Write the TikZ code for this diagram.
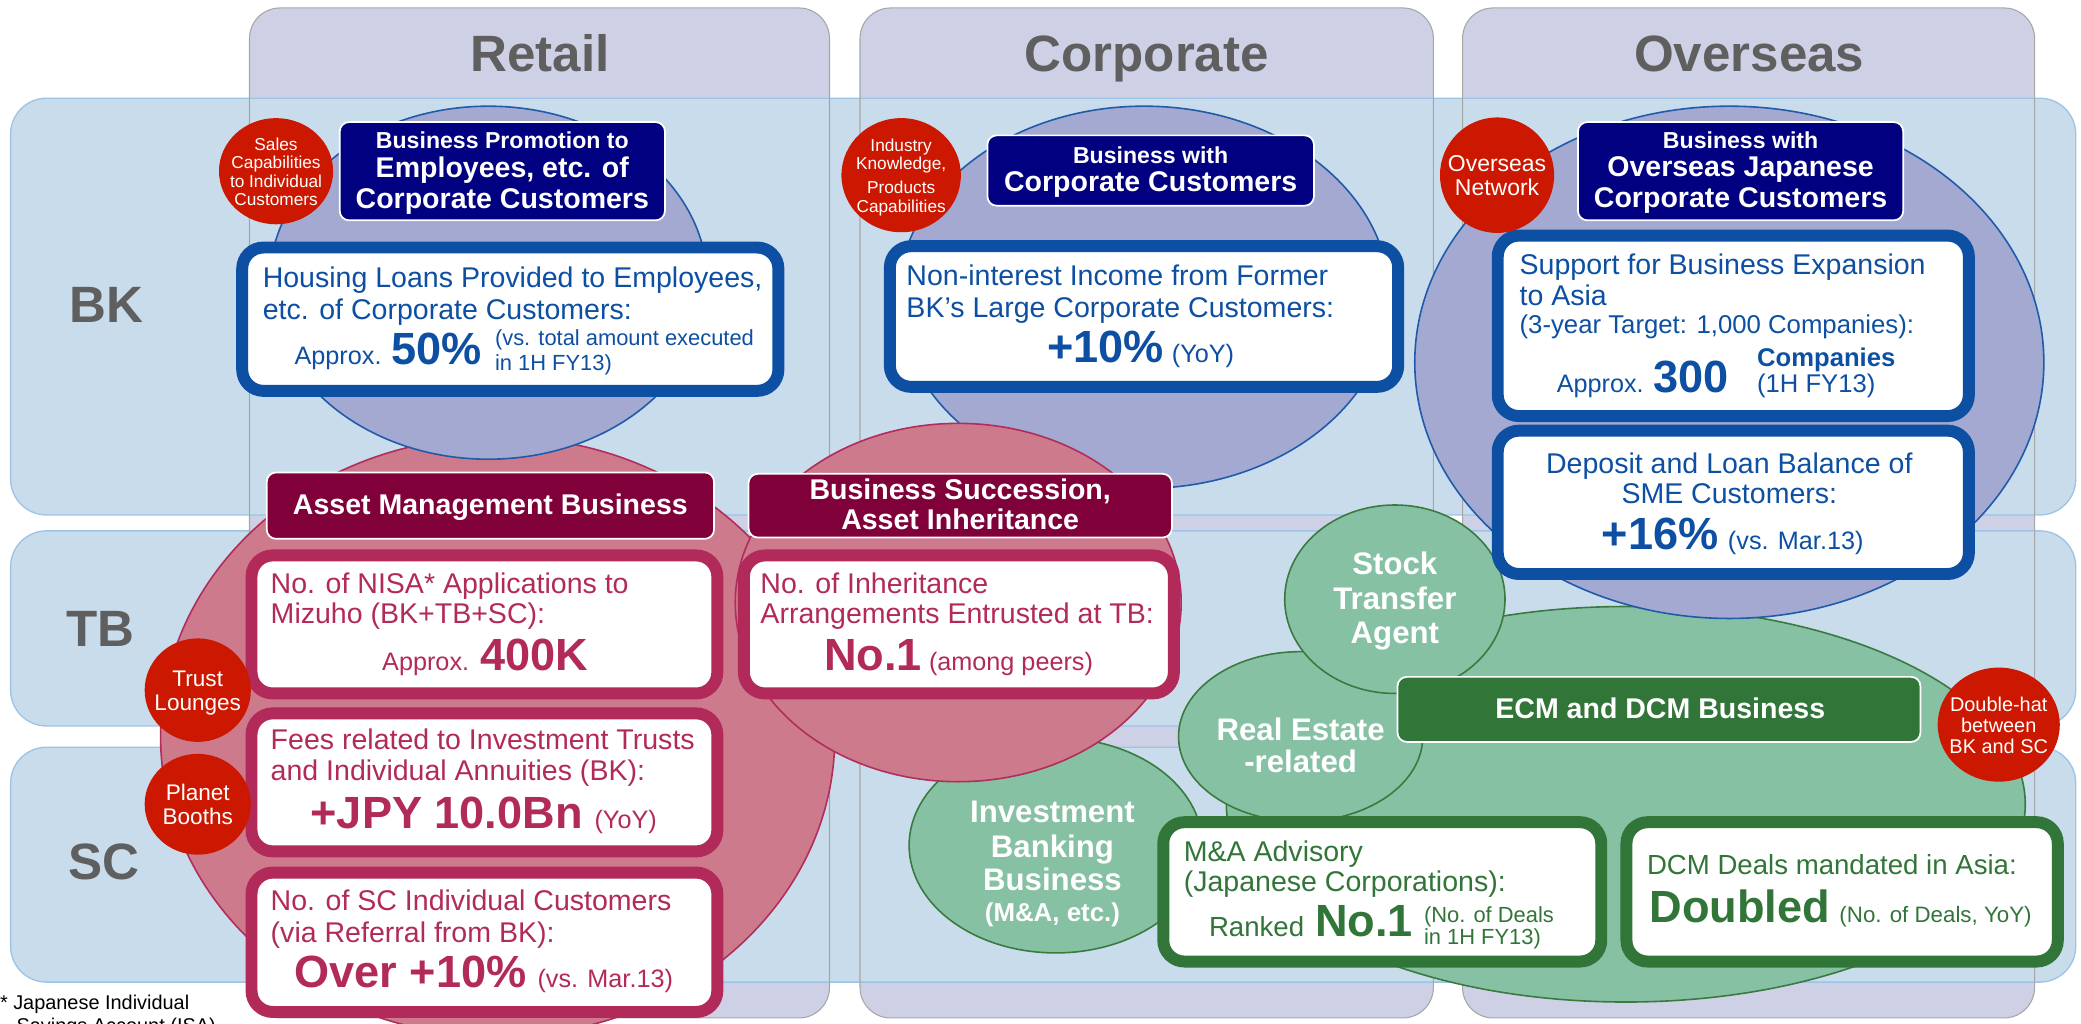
\documentclass[tikz,border=0pt]{standalone}
\usepackage{fontspec}
\setmainfont{Liberation Sans}
\usetikzlibrary{shapes.geometric}

\definecolor{colFill}{HTML}{CED1E6}
\definecolor{colLine}{HTML}{A6A6A6}
\definecolor{bandFill}{HTML}{C9DCEC}
\definecolor{bandLine}{HTML}{9DC3E6}
\definecolor{labelGray}{HTML}{5F5F5F}
\definecolor{lavFill}{HTML}{A3A9D1}
\definecolor{lavLine}{HTML}{1F5BAA}
\definecolor{navyBox}{HTML}{000080}
\definecolor{blueT}{HTML}{0D4FA2}
\definecolor{pinkFill}{HTML}{CD7A8C}
\definecolor{pinkLine}{HTML}{B22C5C}
\definecolor{maroonBox}{HTML}{80003A}
\definecolor{pinkT}{HTML}{B22A5A}
\definecolor{redC}{HTML}{CC1800}
\definecolor{greenFill}{HTML}{86C1A4}
\definecolor{greenLine}{HTML}{3B7A3F}
\definecolor{greenT}{HTML}{327539}

\newcommand{\fsz}[1]{\fontsize{#1}{#1}\selectfont}
% text placed on its baseline: left-aligned or centred
\newcommand{\putW}[4]{\node[txt,anchor=base west,#3] (#1) at (#2) {#4};}
\newcommand{\putC}[4]{\node[txt,anchor=base,#3] (#1) at (#2) {#4};}

\tikzset{
  txt/.style={inner sep=0pt, outer sep=0pt},
  colbox/.style={rectangle, rounded corners=23pt, fill=colFill, inner sep=0pt, minimum height=761pt},
  colframe/.style={rectangle, rounded corners=23pt, draw=colLine, line width=0.8pt, inner sep=0pt, minimum height=761pt},
  band/.style={rectangle, rounded corners=27pt, fill=bandFill, draw=bandLine, line width=1pt, inner sep=0pt, minimum width=1556pt},
  oval/.style={ellipse, inner sep=0pt, line width=1.2pt},
  lavoval/.style={oval, fill=lavFill, draw=lavLine},
  pinkoval/.style={oval, fill=pinkFill, draw=pinkLine},
  greenoval/.style={oval, fill=greenFill, draw=greenLine},
  redc/.style={ellipse, fill=redC, inner sep=0pt},
  tbox/.style={rectangle, rounded corners=7pt, draw=white, line width=1.3pt, inner sep=0pt},
  wbox/.style={rectangle, rounded corners=16pt, fill=white, line width=9pt, inner sep=0pt},
  hdr/.style={font={\fsz{38.5}\bfseries}, text=labelGray},
  body/.style={font={\fsz{21.5}}},
  big/.style={font={\fsz{34}\bfseries}},
  mid/.style={font={\fsz{19}}},
  small/.style={font={\fsz{16.5}}},
  ttlS/.style={font={\fsz{17.4}\bfseries}, text=white},
  ttlL/.style={font={\fsz{21.5}\bfseries}, text=white},
  gc/.style={font={\fsz{23.5}\bfseries}, text=white},
}

\begin{document}
\begin{tikzpicture}[x=1pt,y=-1pt]
\useasboundingbox (0,0) rectangle (1568,771);
\clip (0,0) rectangle (1568,771);

% ---- column panels ----
\node[colbox, minimum width=437pt] (colRet) at (406.5,386.5) {};
\node[colbox, minimum width=432pt] (colCorp) at (864,386.5) {};
\node[colbox, minimum width=431pt] (colOv) at (1317.5,386.5) {};

% ---- row bands ----
\node[band, minimum height=314pt] (bandBK) at (786,231) {};
\node[band, minimum height=147pt] (bandTB) at (786,473.5) {};
\node[band, minimum height=177pt] (bandSC) at (786,651.5) {};

% column outlines over the bands
\node[colframe, minimum width=437pt] (colRetF) at (406.5,386.5) {};
\node[colframe, minimum width=432pt] (colCorpF) at (864,386.5) {};
\node[colframe, minimum width=431pt] (colOvF) at (1317.5,386.5) {};

% headers and row labels
\putC{hdRet}{407,53.5}{hdr}{Retail}
\putC{hdCorp}{864,53.5}{hdr}{Corporate}
\putC{hdOv}{1318,53.5}{hdr}{Overseas}
\putC{lbBK}{80,243}{hdr}{BK}
\putC{lbTB}{75.5,487}{hdr}{TB}
\putC{lbSC}{78.5,663}{hdr}{SC}

% ---- business areas ----
\node[pinkoval, minimum width=508pt, minimum height=452pt] (ovAsset) at (375,555) {};
\node[lavoval, minimum width=330pt, minimum height=266pt] (ovRet) at (368,213) {};
\node[lavoval, minimum width=370pt, minimum height=288pt] (ovCorp) at (862,224) {};
\node[greenoval, minimum width=602pt, minimum height=298pt] (ovECM) at (1225,606) {};
\node[greenoval, minimum width=221pt, minimum height=162pt] (ovInv) at (795.5,637) {};
\node[greenoval, minimum width=184pt, minimum height=128pt] (ovReal) at (980,555) {};
\node[greenoval, minimum width=166pt, minimum height=142pt] (ovStock) at (1051,451.5) {};
\node[lavoval, minimum width=474pt, minimum height=386pt] (ovOv) at (1303,273) {};
\node[pinkoval, minimum width=336pt, minimum height=270pt] (ovSucc) at (722,454) {};

% ---- title boxes ----
\node[tbox, fill=navyBox, minimum width=245pt, minimum height=74pt] (tRet) at (378.5,129) {};
\putC{tRet1}{378.5,112}{ttlS}{Business Promotion to}
\putC{tRet2}{378.5,134}{ttlL}{Employees, etc. of}
\putC{tRet3}{378.5,157}{ttlL}{Corporate Customers}

\node[tbox, fill=navyBox, minimum width=246pt, minimum height=53pt] (tCorp) at (867,128.5) {};
\putC{tCorp1}{867,123}{ttlS}{Business with}
\putC{tCorp2}{867,144}{ttlL}{Corporate Customers}

\node[tbox, fill=navyBox, minimum width=245pt, minimum height=74pt] (tOv) at (1311.5,129) {};
\putC{tOv1}{1311.5,112}{ttlS}{Business with}
\putC{tOv2}{1311.5,133}{ttlL}{Overseas Japanese}
\putC{tOv3}{1311.5,156}{ttlL}{Corporate Customers}

\node[tbox, fill=maroonBox, minimum width=337pt, minimum height=50pt] (tAsset) at (369.5,381) {};
\putC{tAsset1}{369.5,388}{ttlL}{Asset Management Business}

\node[tbox, fill=maroonBox, minimum width=319pt, minimum height=48pt] (tSucc) at (723.5,381) {};
\putC{tSucc1}{723.5,376}{ttlL}{Business Succession,}
\putC{tSucc2}{723.5,399}{ttlL}{Asset Inheritance}

\node[tbox, fill=greenT, minimum width=394pt, minimum height=49pt] (tECM) at (1250,534.5) {};
\putC{tECM1}{1251,541}{ttlL}{ECM and DCM Business}

% ---- BK result boxes ----
\node[wbox, draw=blueT, minimum width=404pt, minimum height=108pt] (bRet) at (384.5,240.5) {};
\putW{bRet1}{198,217}{body,text=blueT}{Housing Loans Provided to Employees,}
\putW{bRet2}{198,241}{body,text=blueT}{etc. of Corporate Customers:}
\putW{bRet3}{222,275}{mid,text=blueT}{Approx.}
\putW{bRet4}{295,275}{big,text=blueT}{50\%}
\putW{bRet5}{373,260}{small,text=blueT}{(vs. total amount executed}
\putW{bRet6}{373,279}{small,text=blueT}{in 1H FY13)}

\node[wbox, draw=blueT, minimum width=383pt, minimum height=106pt] (bCorp) at (862,238.5) {};
\putW{bCorp1}{683,215}{body,text=blueT}{Non-interest Income from Former}
\putW{bCorp2}{683,239}{body,text=blueT}{BK’s Large Corporate Customers:}
\putW{bCorp3}{789,273}{big,text=blueT}{+10\%}
\putW{bCorp4}{883,273}{mid,text=blueT}{(YoY)}

\node[wbox, draw=blueT, minimum width=355pt, minimum height=136pt] (bOv1) at (1306,245.5) {};
\putW{bOv11}{1145,207}{body,text=blueT}{Support for Business Expansion}
\putW{bOv12}{1145,230}{body,text=blueT}{to Asia}
\putW{bOv13}{1145,251}{font={\fsz{19.4}},text=blueT}{(3-year Target: 1,000 Companies):}
\putW{bOv14}{1173,296}{mid,text=blueT}{Approx.}
\putW{bOv15}{1246,296}{big,text=blueT}{300}
\putW{bOv16}{1324,276}{font={\fsz{19.3}\bfseries},text=blueT}{Companies}
\putW{bOv17}{1324,296}{font={\fsz{19.3}},text=blueT}{(1H FY13)}

\node[wbox, draw=blueT, minimum width=355pt, minimum height=108pt] (bOv2) at (1306,378.5) {};
\putC{bOv21}{1303,357}{body,text=blueT}{Deposit and Loan Balance of}
\putC{bOv22}{1303,379}{body,text=blueT}{SME Customers:}
\putW{bOv23}{1207,414}{big,text=blueT}{+16\%}
\putW{bOv24}{1302,414}{mid,text=blueT}{(vs. Mar.13)}

% ---- TB / SC retail boxes ----
\node[wbox, draw=pinkT, minimum width=351pt, minimum height=104pt] (pNisa) at (365,470.5) {};
\putW{pNisa1}{204,447}{body,text=pinkT}{No. of NISA* Applications to}
\putW{pNisa2}{204,470}{body,text=pinkT}{Mizuho (BK+TB+SC):}
\putW{pNisa3}{288,505}{mid,text=pinkT}{Approx.}
\putW{pNisa4}{362,505}{big,text=pinkT}{400K}

\node[wbox, draw=pinkT, minimum width=351pt, minimum height=104pt] (pFees) at (365,589.5) {};
\putW{pFees1}{204,565}{body,text=pinkT}{Fees related to Investment Trusts}
\putW{pFees2}{204,588}{body,text=pinkT}{and Individual Annuities (BK):}
\putW{pFees3}{234,624}{big,text=pinkT}{+JPY 10.0Bn}
\putW{pFees4}{448,624}{mid,text=pinkT}{(YoY)}

\node[wbox, draw=pinkT, minimum width=351pt, minimum height=105pt] (pCust) at (365,710) {};
\putW{pCust1}{204,686}{body,text=pinkT}{No. of SC Individual Customers}
\putW{pCust2}{204,710}{body,text=pinkT}{(via Referral from BK):}
\putW{pCust3}{222,744}{big,text=pinkT}{Over +10\%}
\putW{pCust4}{405,744}{mid,text=pinkT}{(vs. Mar.13)}

\node[wbox, draw=pinkT, minimum width=324pt, minimum height=104pt] (pInh) at (722.5,470.5) {};
\putW{pInh1}{573,447}{body,text=pinkT}{No. of Inheritance}
\putW{pInh2}{573,470}{body,text=pinkT}{Arrangements Entrusted at TB:}
\putW{pInh3}{621,505}{big,text=pinkT}{No.1}
\putW{pInh4}{700,505}{mid,text=pinkT}{(among peers)}

% ---- investment banking boxes ----
\node[wbox, draw=greenT, minimum width=330pt, minimum height=105pt] (gMA) at (1041.5,672) {};
\putW{gMA1}{892,649}{body,text=greenT}{M\&A Advisory}
\putW{gMA2}{892,672}{body,text=greenT}{(Japanese Corporations):}
\putW{gMA3}{911,706}{font={\fsz{20.8}},text=greenT}{Ranked}
\putW{gMA4}{991,706}{big,text=greenT}{No.1}
\putW{gMA5}{1073,695}{small,text=greenT}{(No. of Deals}
\putW{gMA6}{1073,712}{small,text=greenT}{in 1H FY13)}

\node[wbox, draw=greenT, minimum width=325pt, minimum height=105pt] (gDCM) at (1388,672) {};
\putW{gDCM1}{1241,659}{font={\fsz{20.8}},text=greenT}{DCM Deals mandated in Asia:}
\putW{gDCM2}{1243,695}{big,text=greenT}{Doubled}
\putW{gDCM3}{1386,695}{font={\fsz{16.8}},text=greenT}{(No. of Deals, YoY)}

% ---- green circle labels ----
\putC{sta1}{1051,433}{gc}{Stock}
\putC{sta2}{1051,459}{gc}{Transfer}
\putC{sta3}{1051,485}{gc}{Agent}
\putC{rer1}{980,558}{gc}{Real Estate}
\putC{rer2}{980,582}{gc}{-related}
\putC{inv1}{793,620}{gc}{Investment}
\putC{inv2}{793,646}{gc}{Banking}
\putC{inv3}{793,671}{gc}{Business}
\putC{inv4}{793,694}{font={\fsz{19.5}\bfseries},text=white}{(M\&A, etc.)}

% ---- red capability circles ----
\node[redc, minimum width=86pt, minimum height=80pt] (rSales) at (208,129) {};
\putC{rSales1}{208,113.5}{font={\fsz{13}},text=white}{Sales}
\putC{rSales2}{208,127}{font={\fsz{13}},text=white}{Capabilities}
\putC{rSales3}{208,141}{font={\fsz{13}},text=white}{to Individual}
\putC{rSales4}{208,155}{font={\fsz{13}},text=white}{Customers}

\node[redc, minimum width=90pt, minimum height=86pt] (rInd) at (679,132) {};
\putC{rInd1}{679,114}{font={\fsz{13}},text=white}{Industry}
\putC{rInd2}{679,128}{font={\fsz{13}},text=white}{Knowledge,}
\putC{rInd3}{679,146}{font={\fsz{13}},text=white}{Products}
\putC{rInd4}{679,160}{font={\fsz{13}},text=white}{Capabilities}

\node[redc, minimum width=86pt, minimum height=87pt] (rNet) at (1128,132) {};
\putC{rNet1}{1128,129}{font={\fsz{17.3}},text=white}{Overseas}
\putC{rNet2}{1128,147}{font={\fsz{17.3}},text=white}{Network}

\node[redc, minimum width=80pt, minimum height=78pt] (rTrust) at (149,520) {};
\putC{rTrust1}{149,517}{font={\fsz{17}},text=white}{Trust}
\putC{rTrust2}{149,535}{font={\fsz{17}},text=white}{Lounges}

\node[redc, minimum width=80pt, minimum height=76pt] (rPlanet) at (149,606) {};
\putC{rPlanet1}{149,603}{font={\fsz{17}},text=white}{Planet}
\putC{rPlanet2}{149,621}{font={\fsz{17}},text=white}{Booths}

\node[redc, minimum width=92pt, minimum height=86pt] (rDouble) at (1506,546) {};
\putC{rDouble1}{1506,536}{font={\fsz{15}},text=white}{Double-hat}
\putC{rDouble2}{1506,552}{font={\fsz{15}},text=white}{between}
\putC{rDouble3}{1506,568}{font={\fsz{15}},text=white}{BK and SC}

% ---- footnote ----
\putW{fn1}{0,761}{font={\fsz{15}},text=black}{* Japanese Individual}
\putW{fn2}{12.5,778}{font={\fsz{15}},text=black}{Savings Account (ISA)}
\end{tikzpicture}
\end{document}
